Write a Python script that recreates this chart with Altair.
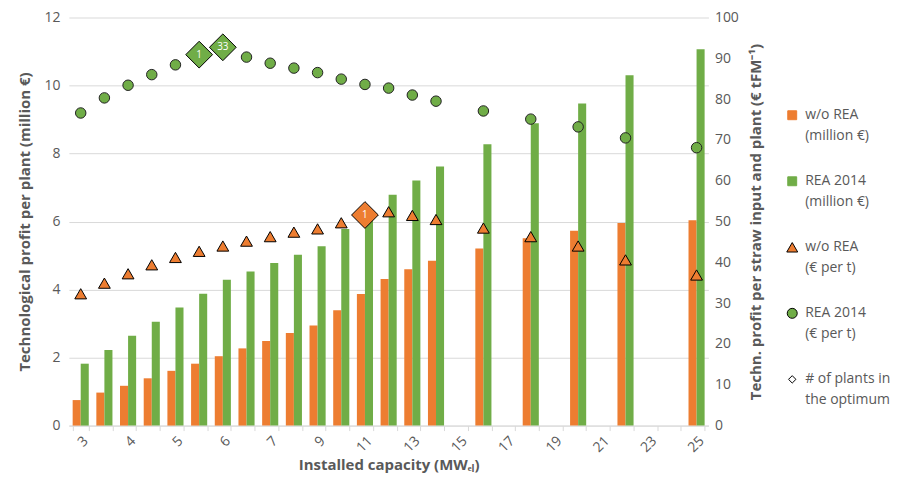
import json
import altair as alt
import pandas as pd

# ---------------- data ----------------
categories = ["3", "3.5", "4", "4.5", "5", "5.5", "6", "6.5", "7", "8", "9", "10", "11", "12",
              "13", "14", "15", "16", "17", "18", "19", "20", "21", "22", "23", "24", "25"]
shown_labels = ["3", "4", "5", "6", "7", "9", "11", "13", "15", "17", "19", "21", "23", "25"]

caps = ["3", "3.5", "4", "4.5", "5", "5.5", "6", "6.5", "7", "8", "9", "10", "11", "12",
        "13", "14", "16", "18", "20", "22", "25"]
profit_wo_rea = [0.75, 0.97, 1.17, 1.39, 1.61, 1.82, 2.04, 2.27, 2.49, 2.72, 2.94, 3.39, 3.87, 4.31,
                 4.60, 4.85, 5.21, 5.51, 5.73, 5.96, 6.04]
profit_rea2014 = [1.82, 2.22, 2.64, 3.05, 3.47, 3.88, 4.29, 4.53, 4.78, 5.02, 5.27, 5.78, 6.25, 6.79,
                  7.21, 7.62, 8.27, 8.89, 9.47, 10.30, 11.07]
per_t_wo_rea = [32.3, 34.9, 37.2, 39.4, 41.2, 42.7, 44.0, 45.2, 46.3, 47.4, 48.2, 49.7, 51.6, 52.4,
                51.5, 50.5, 48.4, 46.3, 44.0, 40.6, 36.9]
per_t_rea2014 = [76.6, 80.3, 83.4, 86.0, 88.4, 90.9, 92.7, 90.3, 88.8, 87.6, 86.5, 84.9, 83.6, 82.7,
                 81.0, 79.5, 77.1, 75.1, 73.2, 70.5, 68.1]

optimum_caps = ["5.5", "6", "11"]
optimum_series = ["REA 2014", "REA 2014", "w/o REA"]
optimum_plants = ["1", "33", "1"]

legend_line1 = ["w/o REA", "REA 2014", "w/o REA", "REA 2014", "# of plants in"]
legend_line2 = ["(million €)", "(million €)", "(€ per t)", "(€ per t)", "the optimum"]

ORANGE = "#ED7D31"
GREEN = "#70AD47"
TXT = "#595959"
FONT = "Open Sans"

# ---------------- tables ----------------
bar_rows = []
for c, a, b in zip(caps, profit_wo_rea, profit_rea2014):
    bar_rows.append({"cap": c, "series": "w/o REA (million €)", "value": a})
    bar_rows.append({"cap": c, "series": "REA 2014 (million €)", "value": b})
bars_df = pd.DataFrame(bar_rows)

opt = {(c, s): p for c, s, p in zip(optimum_caps, optimum_series, optimum_plants)}
pt_rows = []
for c, a, b in zip(caps, per_t_wo_rea, per_t_rea2014):
    for s, v in (("w/o REA", a), ("REA 2014", b)):
        pt_rows.append({"cap": c, "series": s, "value": v,
                        "optimum": (c, s) in opt, "plants": opt.get((c, s), "")})
pts_df = pd.DataFrame(pt_rows)

leg_df = pd.DataFrame({
    "idx": list(range(5)),
    "line1": legend_line1,
    "line2": legend_line2,
    "shape": ["square", "square", "triangle-up", "circle", "diamond"],
    "fill": [ORANGE, GREEN, ORANGE, GREEN, "white"],
    "stroke": [ORANGE, GREEN, "black", "black", "black"],
    "size": [80, 80, 120, 100, 55],
})

# ---------------- main chart ----------------
label_expr = "indexof(" + json.dumps(shown_labels) + ", datum.value) >= 0 ? datum.label : ''"
x_enc = alt.X(
    "cap:N", sort=categories,
    scale=alt.Scale(domain=categories, paddingInner=0.32, paddingOuter=0.16),
    axis=alt.Axis(labelExpr=label_expr, labelAngle=-45, tickBand="extent", tickSize=5,
                  tickColor="#d9d9d9", domainColor="#d9d9d9", labelPadding=3,
                  title="Installed capacity (MWₑₗ)", titlePadding=3, titleFontSize=15),
)

bars = alt.Chart(bars_df).mark_bar().encode(
    x=x_enc,
    xOffset=alt.XOffset("series:N", sort=["w/o REA (million €)", "REA 2014 (million €)"],
                        scale=alt.Scale(paddingInner=0, paddingOuter=0)),
    y=alt.Y("value:Q", scale=alt.Scale(domain=[0, 12]),
            axis=alt.Axis(orient="left", values=list(range(0, 13, 2)), grid=True,
                          gridColor="#d9d9d9", domain=False, ticks=False, labelPadding=9,
                          title="Technological profit per plant (million €)", titlePadding=11)),
    color=alt.Color("series:N", scale=alt.Scale(domain=["w/o REA (million €)", "REA 2014 (million €)"],
                                                range=[ORANGE, GREEN]), legend=None),
)

y_right = alt.Y("value:Q", scale=alt.Scale(domain=[0, 100]),
                axis=alt.Axis(orient="right", values=list(range(0, 101, 10)), grid=False,
                              domain=False, ticks=False, labelPadding=6,
                              title="Techn. profit per straw input and plant (€ tFM⁻¹)",
                              titleAngle=270, titleBaseline="top", titlePadding=10))

tri = alt.Chart(pts_df).transform_filter(
    "datum.series == 'w/o REA' && !datum.optimum"
).mark_point(shape="triangle-up", filled=True, fill=ORANGE, stroke="black", strokeWidth=1,
             size=140, opacity=1).encode(x=x_enc, y=y_right)

circ = alt.Chart(pts_df).transform_filter(
    "datum.series == 'REA 2014' && !datum.optimum"
).mark_point(shape="circle", filled=True, fill=GREEN, stroke="#222222", strokeWidth=1,
             size=110, opacity=1).encode(x=x_enc, y=y_right)

dia = alt.Chart(pts_df).transform_filter("datum.optimum").mark_point(
    shape="diamond", filled=True, stroke="black", strokeWidth=1, size=720, opacity=1
).encode(
    x=x_enc, y=y_right,
    fill=alt.Fill("series:N", scale=alt.Scale(domain=["w/o REA", "REA 2014"], range=[ORANGE, GREEN]),
                  legend=None),
)

dia_txt = alt.Chart(pts_df).transform_filter("datum.optimum").mark_text(
    color="white", fontSize=10, font=FONT, baseline="middle", align="center"
).encode(x=x_enc, y=y_right, text="plants:N")

main = alt.layer(bars, alt.layer(tri, circ, dia, dia_txt)).resolve_scale(
    y="independent", color="independent", fill="independent"
).properties(width=641, height=409)

# ---------------- legend ----------------
leg_y = alt.Y("idx:Q", scale=alt.Scale(domain=[-1.48, 4.70], reverse=True, nice=False, zero=False),
              axis=None)
leg_sym = alt.Chart(leg_df).mark_point(filled=True, opacity=1, strokeWidth=1).encode(
    x=alt.value(6), y=leg_y,
    shape=alt.Shape("shape:N", scale=None),
    fill=alt.Fill("fill:N", scale=None),
    stroke=alt.Stroke("stroke:N", scale=None),
    size=alt.Size("size:Q", scale=None),
)
leg_t1 = alt.Chart(leg_df).mark_text(align="left", baseline="middle", fontSize=14, font=FONT,
                                     color=TXT).encode(x=alt.value(19), y=leg_y, text="line1:N")
leg_t2 = alt.Chart(leg_df).mark_text(align="left", baseline="middle", fontSize=14, font=FONT,
                                     color=TXT, dy=21).encode(x=alt.value(19), y=leg_y, text="line2:N")
legend = alt.layer(leg_sym, leg_t1, leg_t2).properties(width=95, height=409)

chart = alt.hconcat(main, legend, spacing=20).properties(
    padding={"left": 9, "top": 2, "right": 0, "bottom": 0}
).configure_view(stroke=None).configure_axis(
    labelFont=FONT, labelFontSize=14, labelColor=TXT,
    titleFont=FONT, titleFontSize=15, titleColor=TXT, titleFontWeight="bold",
).configure_concat(spacing=20)

chart.save("out.html", embed_options={"renderer": "svg", "actions": False})
